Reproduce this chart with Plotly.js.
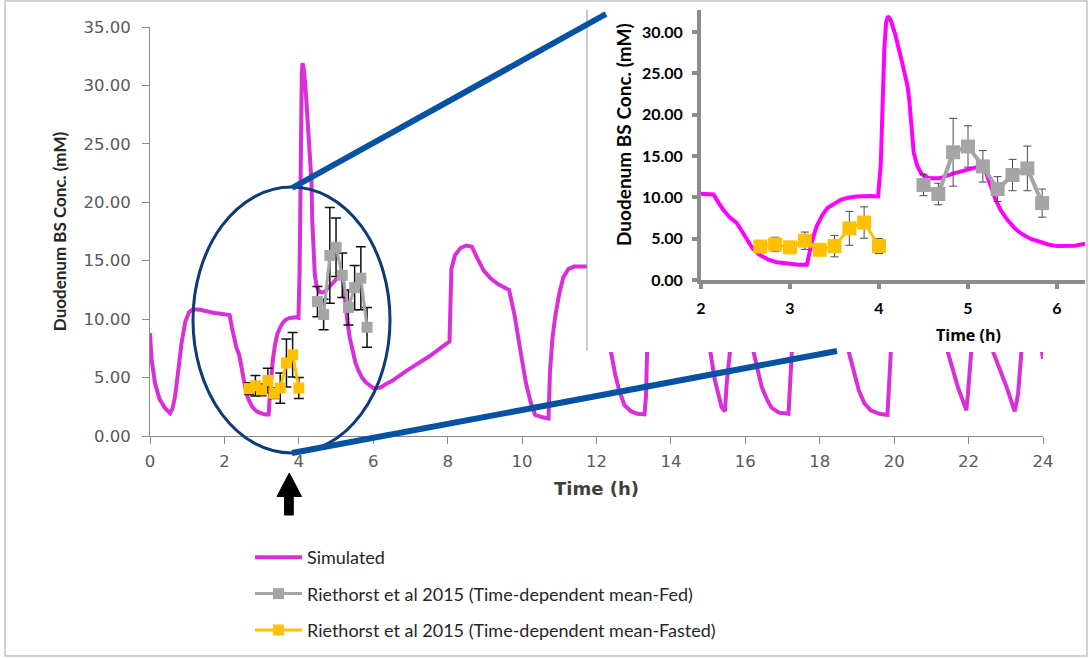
<!DOCTYPE html>
<html>
<head>
<meta charset="utf-8">
<script src="https://cdn.plot.ly/plotly-3.0.1.min.js"></script>
<style>
  html, body { margin: 0; padding: 0; background: #ffffff; }
  #chart { width: 1089px; height: 658px; }
</style>
</head>
<body>
<div id="chart"></div>
<script>
// Simulated duodenal bile salt concentration over 24 h
const simTime = [0, 0.04, 0.13, 0.25, 0.4, 0.54, 0.6, 0.67, 0.76, 0.85, 0.95, 1.05, 1.15, 1.35, 1.7, 2.0,
  2.14, 2.2, 2.25, 2.32, 2.4, 2.46, 2.52, 2.58, 2.65, 2.75, 2.85, 2.97, 3.1, 3.19, 3.21, 3.25, 3.3, 3.36,
  3.42, 3.5, 3.57, 3.65, 3.75, 3.9, 3.99, 4.02, 4.04, 4.06, 4.08, 4.1, 4.13, 4.18, 4.26, 4.32, 4.34, 4.36,
  4.39, 4.43, 4.48, 4.56, 4.68, 4.84, 5.0, 5.1, 5.18, 5.21, 5.26, 5.31, 5.37, 5.44, 5.52, 5.6, 5.7, 5.8,
  5.9, 6.0, 6.1, 6.2, 6.32, 6.5, 6.9, 7.5, 8.05, 8.1, 8.2, 8.35, 8.5, 8.65, 8.8, 8.96, 9.15, 9.35, 9.65,
  9.8, 9.95, 10.1, 10.22, 10.35, 10.55, 10.71, 10.75, 10.82, 10.9, 11.0, 11.11, 11.25, 11.4, 11.75,
  12.1, 12.2, 12.3, 12.39, 12.5, 12.61, 12.75, 12.93, 13.1, 13.29, 13.33, 13.36, 13.42, 13.5, 13.65, 13.85,
  14.7, 14.85, 14.95, 15.05, 15.18, 15.36, 15.45, 15.5, 15.59, 15.7, 15.85, 16.0,
  16.1, 16.22, 16.44, 16.6, 16.71, 16.9, 17.16, 17.2, 17.25, 17.35, 17.5, 17.7,
  18.5, 18.65, 18.78, 19.05, 19.2, 19.37, 19.6, 19.82, 19.86, 19.91, 20.0, 20.15, 20.4,
  21.2, 21.35, 21.44, 21.71, 21.85, 21.94, 21.98, 22.07, 22.2, 22.4,
  22.55, 22.66, 23.02, 23.15, 23.24, 23.33, 23.42, 23.55, 23.75, 23.9, 24.0];
const simConc = [8.8, 6.6, 4.6, 3.2, 2.4, 1.95, 2.3, 3.3, 5.6, 8.0, 9.8, 10.6, 10.85, 10.8, 10.55, 10.4,
  10.35, 9.3, 8.5, 7.6, 6.9, 5.9, 4.8, 3.8, 3.1, 2.5, 2.15, 1.95, 1.85, 1.85, 3.0, 4.8, 6.5, 7.8,
  8.7, 9.3, 9.7, 9.95, 10.1, 10.15, 10.1, 14, 22, 28, 31.2, 31.9, 31.5, 29.8, 26.3, 23.5, 21.8, 18.5,
  15.4, 13.8, 12.8, 12.3, 12.3, 12.9, 13.4, 13.65, 13.7, 12.7, 11.0, 9.7, 8.4, 7.3, 6.3, 5.6, 5.0, 4.6,
  4.3, 4.1, 4.1, 4.15, 4.4, 4.7, 5.6, 6.8, 8.1, 14.3, 15.5, 16.1, 16.3, 16.2, 15.2, 14.2, 13.5, 13.0, 12.5,
  10.3, 7.4, 4.6, 3.0, 1.8, 1.6, 1.5, 5.5, 8.5, 10.4, 12.2, 13.6, 14.3, 14.5, 14.5,
  14.4, 12.5, 9.8, 7.2, 5.3, 3.9, 2.65, 2.1, 1.9, 1.85, 3.4, 7.2, 10.5, 12.8, 14.2, 14.5,
  14.4, 11.5, 9.2, 7.2, 4.8, 2.5, 2.1, 4.5, 7.2, 10.8, 13.2, 13.4,
  11.5, 7.2, 4.2, 3.0, 2.4, 2.0, 1.9, 4.8, 7.2, 11.0, 13.8, 14.5,
  14.4, 11.5, 7.2, 3.9, 2.8, 2.2, 1.9, 1.8, 4.8, 7.2, 11.0, 13.8, 14.5,
  14.4, 11.0, 7.2, 4.2, 2.9, 2.2, 3.5, 7.2, 11.0, 12.5,
  10.5, 7.2, 4.2, 2.9, 2.1, 3.6, 7.2, 11.0, 12.5, 9.0, 6.6];

// Riethorst et al 2015 – time-dependent means (mM) and SD, fed state
const fedTime = [4.5, 4.667, 4.833, 5.0, 5.167, 5.333, 5.5, 5.667, 5.833];
const fedConc = [11.5, 10.4, 15.45, 16.15, 13.75, 11.0, 12.7, 13.5, 9.3];
const fedSD = [1.3, 1.3, 4.1, 2.5, 1.9, 1.5, 1.9, 2.7, 1.7];

// Riethorst et al 2015 – time-dependent means (mM) and SD, fasted state
const fastedTime = [2.667, 2.833, 3.0, 3.167, 3.333, 3.5, 3.667, 3.833, 4.0];
const fastedConc = [4.05, 4.3, 3.95, 4.75, 3.65, 4.1, 6.25, 6.95, 4.1];
const fastedSD = [0.5, 0.87, 0.5, 1.05, 0.45, 1.3, 2.05, 1.9, 0.9];

const seriesNames = ['Simulated',
  'Riethorst et al 2015 (Time-dependent mean-Fed)',
  'Riethorst et al 2015 (Time-dependent mean-Fasted)'];

const mainTicks = [0, 2, 4, 6, 8, 10, 12, 14, 16, 18, 20, 22, 24];
const insetTicks = [2, 3, 4, 5, 6];

// figure size and helpers that turn pixel positions into paper fractions
const W = 1089, H = 658;
const px = v => v / W;
const py = v => 1 - v / H;

const LATO = 'Lato, "Open Sans", "Liberation Sans", sans-serif';
const WIDE = '"DejaVu Sans", Verdana, sans-serif';
const OPEN = '"Open Sans", Lato, sans-serif';
const SIM_MAIN = '#d830d8', SIM_INSET = '#ff00ff';
const FED = '#a5a5a5', FASTED = '#ffc000';

const traces = [
  // main chart
  { x: simTime, y: simConc, name: seriesNames[0], legendgroup: 'sim', type: 'scatter', mode: 'lines',
    line: { color: SIM_MAIN, width: 4 }, xaxis: 'x', yaxis: 'y', hoverinfo: 'skip' },
  { x: fedTime, y: fedConc, name: seriesNames[1], legendgroup: 'fed', type: 'scatter', mode: 'lines+markers',
    line: { color: FED, width: 3 }, marker: { symbol: 'square', size: 11, color: FED },
    error_y: { type: 'data', array: fedSD, visible: true, color: '#111111', thickness: 1.5, width: 5 },
    xaxis: 'x', yaxis: 'y', hoverinfo: 'skip' },
  { x: fastedTime, y: fastedConc, name: seriesNames[2], legendgroup: 'fasted', type: 'scatter', mode: 'lines+markers',
    line: { color: FASTED, width: 3 }, marker: { symbol: 'square', size: 11, color: FASTED },
    error_y: { type: 'data', array: fastedSD, visible: true, color: '#111111', thickness: 1.5, width: 5 },
    xaxis: 'x', yaxis: 'y', hoverinfo: 'skip' },
  // white panel behind the zoomed view
  { x: [], y: [], type: 'scatter', mode: 'lines', showlegend: false, xaxis: 'x2', yaxis: 'y2', hoverinfo: 'skip' },
  // zoomed view, 2–6 h
  { x: simTime, y: simConc, name: seriesNames[0], legendgroup: 'sim', type: 'scatter', mode: 'lines', showlegend: false,
    line: { color: SIM_INSET, width: 4 }, xaxis: 'x3', yaxis: 'y3', hoverinfo: 'skip' },
  { x: fedTime, y: fedConc, name: seriesNames[1], legendgroup: 'fed', type: 'scatter', mode: 'lines+markers', showlegend: false,
    line: { color: FED, width: 4 }, marker: { symbol: 'square', size: 14, color: FED },
    error_y: { type: 'data', array: fedSD, visible: true, color: '#4a4a4a', thickness: 1, width: 4 },
    xaxis: 'x3', yaxis: 'y3', hoverinfo: 'skip' },
  { x: fastedTime, y: fastedConc, name: seriesNames[2], legendgroup: 'fasted', type: 'scatter', mode: 'lines+markers', showlegend: false,
    line: { color: FASTED, width: 3 }, marker: { symbol: 'square', size: 14, color: FASTED },
    error_y: { type: 'data', array: fastedSD, visible: true, color: '#4a4a4a', thickness: 1, width: 4 },
    xaxis: 'x3', yaxis: 'y3', hoverinfo: 'skip' }
];

const mainAxisCommon = {
  showline: true, linecolor: '#8a8a8a', linewidth: 1, showgrid: false, zeroline: false,
  ticks: 'outside', ticklen: 7, tickwidth: 1, tickcolor: '#8a8a8a',
  tickfont: { family: WIDE, size: 16.5, color: '#595959' }
};
const insetAxisCommon = {
  showline: true, linecolor: '#8c8c8c', linewidth: 4, showgrid: false, zeroline: false,
  ticks: 'outside', ticklen: 5, tickwidth: 4, tickcolor: '#8c8c8c',
  tickfont: { family: LATO, size: 16, color: '#000000', weight: 700 }
};

const layout = {
  width: W, height: H,
  margin: { l: 0, r: 0, t: 0, b: 0 },
  paper_bgcolor: '#ffffff', plot_bgcolor: '#ffffff',
  font: { family: LATO },
  showlegend: true,
  legend: {
    x: px(250), y: py(539), xanchor: 'left', yanchor: 'top', orientation: 'v',
    bgcolor: 'rgba(0,0,0,0)', itemwidth: 47, traceorder: 'grouped', tracegroupgap: 10,
    font: { family: LATO, size: 18, color: '#262626' }
  },
  xaxis: Object.assign({}, mainAxisCommon, {
    domain: [px(150), px(1043)], range: [0, 24], tickvals: mainTicks, anchor: 'y', ticklabelstandoff: 3,
    title: { text: 'Time (h)', font: { family: WIDE, size: 18, color: '#404040', weight: 700 }, standoff: 12 }
  }),
  yaxis: Object.assign({}, mainAxisCommon, {
    domain: [py(436), py(27)], range: [0, 35], dtick: 5, tickformat: '.2f', anchor: 'x', ticklabelstandoff: 8,
    title: { text: 'Duodenum BS Conc. (mM)', font: { family: LATO, size: 17, color: '#262626', weight: 700 }, standoff: 12 }
  }),
  xaxis2: { domain: [px(587), 1], range: [0, 1], visible: false, anchor: 'y2', fixedrange: true },
  yaxis2: { domain: [py(352), 1], range: [0, 1], visible: false, anchor: 'x2', fixedrange: true },
  xaxis3: Object.assign({}, insetAxisCommon, {
    domain: [px(701), px(1085)], range: [2, 2 + (1085 - 701) / 89], tickvals: insetTicks, anchor: 'y3',
    ticklabelstandoff: 6
  }),
  yaxis3: Object.assign({}, insetAxisCommon, {
    domain: [py(280), py(10)], range: [0, 270 / 8.267], dtick: 5, tickformat: '.2f', anchor: 'x3',
    ticklabelstandoff: 6
  }),
  annotations: [
    { text: 'Time (h)', xref: 'paper', yref: 'paper', x: px(968), y: py(335), showarrow: false,
      xanchor: 'center', yanchor: 'middle', font: { family: OPEN, size: 16, color: '#000000', weight: 700 } },
    { text: 'Duodenum BS Conc. (mM)', xref: 'paper', yref: 'paper', x: px(623), y: py(135), showarrow: false,
      textangle: -90, xanchor: 'center', yanchor: 'middle', font: { family: LATO, size: 19, color: '#000000', weight: 700 } }
  ],
  shapes: [
    // outer frame
    { type: 'rect', xref: 'paper', yref: 'paper', x0: px(5), x1: px(1087), y0: py(656), y1: py(1),
      line: { color: '#c4c4c4', width: 1.5 }, layer: 'above' },
    // left edge of the zoomed panel
    { type: 'line', xref: 'paper', yref: 'paper', x0: px(587), x1: px(587), y0: py(351), y1: py(10),
      line: { color: '#9a9a9a', width: 1 }, layer: 'above' },
    // highlight ellipse around 2–6 h
    { type: 'circle', xref: 'paper', yref: 'paper', x0: px(193), x1: px(390), y0: py(453), y1: py(187),
      line: { color: '#0d3a78', width: 3 }, layer: 'above' },
    // connector lines to the zoomed panel
    { type: 'line', xref: 'paper', yref: 'paper', x0: px(292), y0: py(188), x1: px(606), y1: py(14),
      line: { color: '#0552a3', width: 6 }, layer: 'above' },
    { type: 'line', xref: 'paper', yref: 'paper', x0: px(292), y0: py(453), x1: px(837), y1: py(351),
      line: { color: '#0552a3', width: 6 }, layer: 'above' },
    // up arrow marking the 4 h meal
    { type: 'path', xref: 'paper', yref: 'paper', layer: 'above',
      path: 'M' + px(289.3) + ',' + py(473) + ' L' + px(301.5) + ',' + py(496.5) + ' L' + px(293.3) + ',' + py(496.5) +
            ' L' + px(293.3) + ',' + py(515) + ' L' + px(284.5) + ',' + py(515) + ' L' + px(284.5) + ',' + py(496.5) +
            ' L' + px(277) + ',' + py(496.5) + ' Z',
      fillcolor: '#000000', line: { color: '#000000', width: 1 } }
  ]
};

Plotly.newPlot('chart', traces, layout, { staticPlot: true, displayModeBar: false });
</script>
</body>
</html>
